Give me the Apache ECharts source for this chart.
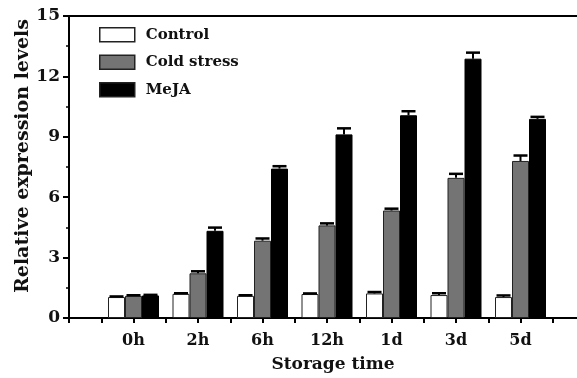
<!DOCTYPE html>
<html><head><meta charset="utf-8">
<script src="https://cdn.jsdelivr.net/npm/echarts@6/dist/echarts.min.js"></script>
<style>html,body{margin:0;padding:0;background:#fff;overflow:hidden}#c{width:600px;height:378px}</style>
</head><body><div id="c"></div>
<script>
var categories = ['0h', '2h', '6h', '12h', '1d', '3d', '5d'];
var seriesNames = ['Control', 'Cold stress', 'MeJA'];
var controlVals = [1.04, 1.20, 1.10, 1.19, 1.22, 1.14, 1.04];
var controlErr  = [0.03, 0.03, 0.03, 0.03, 0.07, 0.09, 0.08];
var coldVals    = [1.10, 2.22, 3.84, 4.60, 5.34, 6.96, 7.80];
var coldErr     = [0.03, 0.10, 0.11, 0.10, 0.09, 0.20, 0.27];
var mejaVals    = [1.12, 4.33, 7.42, 9.12, 10.07, 12.88, 9.89];
var mejaErr     = [0.03, 0.16, 0.12, 0.30, 0.20, 0.30, 0.10];
var yTicks = [0, 3, 6, 9, 12, 15];

var FONT = 'DejaVu Serif';
var colors = ['#ffffff', '#747474', '#000000'];
var borders = ['#222', '#222', '#000'];
var BW = 17;

var xCats = [''].concat(categories).concat(['']);
function pad(a){ return [null].concat(a).concat([null]); }
var vals = [controlVals, coldVals, mejaVals];
var errs = [controlErr, coldErr, mejaErr];
var tickCats = [];
for (var i = 0; i < xCats.length * 2 - 1; i++) tickCats.push('');

var series = [];
vals.forEach(function(v, s){
  series.push({
    name: seriesNames[s], type: 'bar', xAxisIndex: 0, data: pad(v),
    barWidth: BW, barGap: '0%',
    itemStyle: {color: colors[s], borderColor: borders[s], borderWidth: 1}
  });
});
vals.forEach(function(v, s){
  var d = [];
  v.forEach(function(val, k){ d.push([k + 1, val, val + errs[s][k]]); });
  series.push({
    type: 'custom', xAxisIndex: 0, data: d, z: 5, silent: true,
    renderItem: function(params, api){
      var off = (s - 1) * BW;
      var p0 = api.coord([api.value(0), api.value(1)]);
      var p1 = api.coord([api.value(0), api.value(2)]);
      var x = p0[0] + off;
      var half = 7;
      return {type: 'group', children: [
        {type: 'line', shape: {x1: x, y1: p0[1], x2: x, y2: p1[1]}, style: {stroke: '#000', lineWidth: 2}},
        {type: 'line', shape: {x1: x - half, y1: p1[1], x2: x + half, y2: p1[1]}, style: {stroke: '#000', lineWidth: 2.5}}
      ]};
    }
  });
});

var chart = echarts.init(document.getElementById('c'), null, {renderer: 'canvas'});
chart.setOption({
  animation: false,
  backgroundColor: '#fff',
  grid: {left: 69, right: 15, top: 16, bottom: 60},
  legend: {
    data: seriesNames.map(function(n, i){ return {name: n, itemStyle: {color: colors[i], borderColor: '#222', borderWidth: 1.5}}; }),
    orient: 'vertical', left: 94, top: 22, itemWidth: 35, itemHeight: 14, itemGap: 12,
    icon: 'rect',
    textStyle: {fontFamily: FONT, fontWeight: 'bold', fontSize: 15, color: '#111', padding: [0, 0, 0, 6]}
  },
  xAxis: [{
    type: 'category', data: xCats, boundaryGap: false, position: 'bottom',
    axisLine: {lineStyle: {color: '#000', width: 2}},
    axisTick: {show: false},
    axisLabel: {interval: 0, margin: 15, fontFamily: FONT, fontWeight: 'bold', fontSize: 16, color: '#111'},
    name: 'Storage time', nameLocation: 'middle', nameGap: 38, nameMoveOverlap: false,
    nameTextStyle: {fontFamily: FONT, fontWeight: 'bold', fontSize: 17, color: '#111', padding: [0, 0, 0, 12]},
    splitLine: {show: false}
  }, {
    type: 'category', data: tickCats, boundaryGap: false, position: 'bottom',
    axisLine: {show: false},
    axisTick: {show: true, interval: 0, length: 5, lineStyle: {color: '#000', width: 2}},
    axisLabel: {show: false}, splitLine: {show: false}
  }, {
    type: 'category', data: xCats, boundaryGap: false, position: 'top',
    axisLine: {lineStyle: {color: '#000', width: 2}},
    axisTick: {show: false}, axisLabel: {show: false}, splitLine: {show: false}
  }],
  yAxis: {
    type: 'value', min: 0, max: 15, interval: 3,
    axisLine: {show: true, lineStyle: {color: '#000', width: 2}},
    axisTick: {show: true, length: 6, lineStyle: {color: '#000', width: 2}},
    minorTick: {show: true, splitNumber: 2, length: 3, lineStyle: {color: '#000', width: 1.5}},
    axisLabel: {margin: 9, fontFamily: FONT, fontWeight: 'bold', fontSize: 17, color: '#111',
      formatter: function(v){ return yTicks.indexOf(v) >= 0 ? String(v) : ''; }},
    splitLine: {show: false},
    name: 'Relative expression levels', nameLocation: 'middle', nameGap: 36, nameMoveOverlap: false,
    nameTextStyle: {fontFamily: FONT, fontWeight: 'bold', fontSize: 19, color: '#111', padding: [0, 0, 0, 22]}
  },
  series: series
});
</script>
</body></html>
